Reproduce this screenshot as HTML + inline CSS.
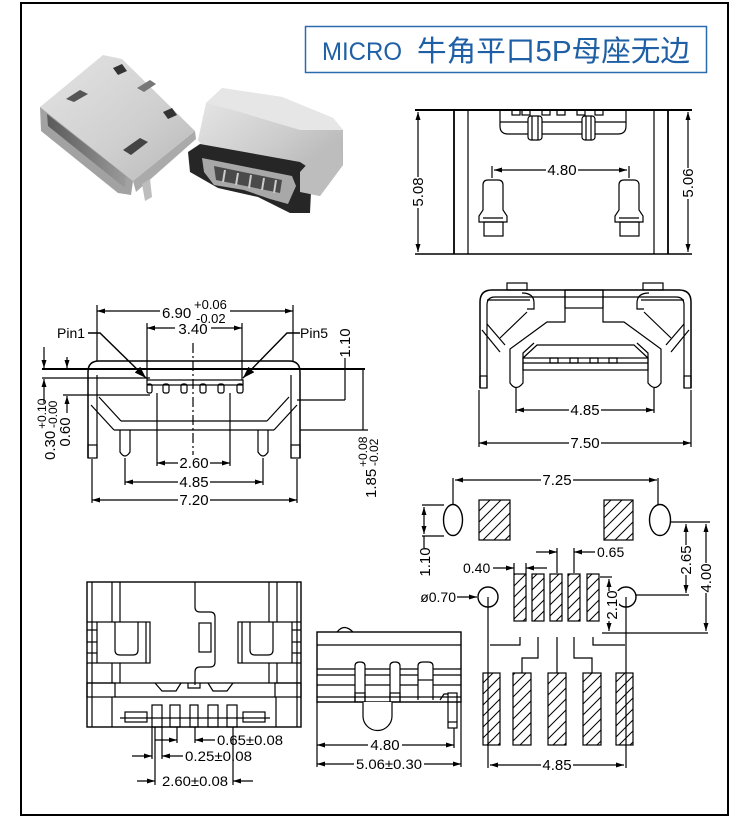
<!DOCTYPE html>
<html><head><meta charset="utf-8">
<style>
html,body{margin:0;padding:0;background:#fff;}
svg{display:block;}
text{font-family:"Liberation Sans",sans-serif;}
</style></head><body>
<svg width="750" height="825" viewBox="0 0 750 825" xmlns="http://www.w3.org/2000/svg">
<defs>
<marker id="ar" viewBox="0 0 8 6" refX="8" refY="3" markerWidth="8" markerHeight="6" markerUnits="userSpaceOnUse" orient="auto-start-reverse"><path d="M0,0.5 L8,3 L0,5.5 z" fill="#000"/></marker>
<marker id="ab" viewBox="0 0 12 8" refX="12" refY="4" markerWidth="12" markerHeight="8" markerUnits="userSpaceOnUse" orient="auto"><path d="M0,0 L12,4 L0,8 z" fill="#000"/></marker>
<pattern id="h" patternUnits="userSpaceOnUse" width="11" height="11"><path d="M0,11 L11,0 M-5.5,5.5 L5.5,-5.5 M5.5,16.5 L16.5,5.5" stroke="#000" stroke-width="1"/></pattern>
<linearGradient id="g1" x1="0" y1="0" x2="1" y2="1"><stop offset="0" stop-color="#e4e4e4"/><stop offset="0.6" stop-color="#cfcfcf"/><stop offset="1" stop-color="#b8b8b8"/></linearGradient>
<linearGradient id="g2" x1="0" y1="0" x2="1" y2="1"><stop offset="0" stop-color="#e8e8e8"/><stop offset="0.5" stop-color="#cdcdcd"/><stop offset="1" stop-color="#a9a9a9"/></linearGradient>
<linearGradient id="g3" x1="0" y1="0" x2="1" y2="0"><stop offset="0" stop-color="#5a5a5a"/><stop offset="1" stop-color="#9a9a9a"/></linearGradient>
</defs>

<!-- frame -->
<rect x="21" y="3" width="707" height="812" fill="none" stroke="#000" stroke-width="2"/>

<!-- title -->
<rect x="305.5" y="26.5" width="401" height="46" fill="none" stroke="#2b6cb0" stroke-width="1.5"/>
<text x="322" y="60" font-size="25" fill="#1f5fa5" textLength="80" lengthAdjust="spacingAndGlyphs">MICRO</text>
<text x="417" y="61" font-size="29" fill="#1f5fa5" style="font-family:'Liberation Sans','Noto Sans CJK SC',sans-serif" textLength="273" lengthAdjust="spacingAndGlyphs">牛角平口5P母座无边</text>

<!-- photo: left connector -->
<g>
<polygon points="40,107 103,55 122,59 195,131 133,181" fill="url(#g1)"/>
<polygon points="40,107 133,181 131,195 118,193 41,131" fill="#a2a2a2"/>
<polygon points="47,114 126,176 125,188 48,126" fill="url(#g3)"/>
<polygon points="133,181 195,131 196,139 136,192" fill="#aaaaaa"/>
<polygon points="142,184 150,179 152,197 145,201" fill="#bdbdbd"/>
<polygon points="113,68 122,64 127,71 118,75" fill="#333"/>
<polygon points="163,112 172,108 177,115 168,119" fill="#333"/>
<polygon points="66,99 80,90 88,94 74,102" fill="#555"/>
<polygon points="123,150 140,138 148,142 131,155" fill="#444"/>
<polygon points="137,88 150,80 156,84 144,92" fill="#777"/>
</g>
<!-- photo: right connector -->
<g>
<polygon points="198,140 206,103 222,88 282,97 333,118 343,130 343,165 320,196 300,192 300,172 205,150" fill="url(#g2)"/>
<polygon points="206,103 222,88 282,97 333,118 343,130 300,130 240,112" fill="#e6e6e6"/>
<polygon points="188,152 200,144 300,162 312,170 310,213 290,213 258,197 218,188 190,172" fill="#262626"/>
<polygon points="202,158 292,176 296,186 288,204 270,199 244,190 214,185 204,172" fill="#a8a8a8"/>
<polygon points="214,166 282,180 280,193 216,180" fill="#4a4a4a"/>
<g stroke="#ccc" stroke-width="2">
<line x1="225" y1="170" x2="223" y2="182"/><line x1="238" y1="173" x2="236" y2="185"/><line x1="251" y1="175" x2="249" y2="188"/><line x1="264" y1="178" x2="262" y2="190"/><line x1="276" y1="180" x2="274" y2="193"/>
</g>
<polygon points="300,172 320,150 340,140 343,165 320,196 300,192" fill="#bdbdbd"/>
</g>

<g stroke="#000" fill="none" stroke-width="1.2">
<!-- ===== top-right drawing ===== -->
<line x1="415" y1="110" x2="692" y2="110" stroke-width="2"/>
<line x1="415" y1="254" x2="692" y2="254" stroke-width="1.6"/>
<line x1="454" y1="110" x2="454" y2="254" stroke-width="1.8"/>
<line x1="468" y1="110" x2="468" y2="254"/>
<line x1="654" y1="110" x2="654" y2="254"/>
<line x1="668" y1="110" x2="668" y2="254" stroke-width="1.8"/>
<line x1="418" y1="112" x2="418" y2="252" marker-start="url(#ar)" marker-end="url(#ar)"/>
<line x1="688" y1="112" x2="688" y2="252" marker-start="url(#ar)" marker-end="url(#ar)"/>
<path d="M500,110 V126 Q500,134 508,134 H618 Q626,134 626,126 V110"/>
<line x1="500" y1="122" x2="626" y2="122"/>
<rect x="512" y="110" width="8" height="5"/><rect x="522" y="110" width="8" height="5"/><rect x="542" y="110" width="8" height="5"/><rect x="557" y="110" width="8" height="5"/><rect x="577" y="110" width="8" height="5"/><rect x="595" y="110" width="8" height="5"/>
<rect x="528" y="116" width="14" height="24" rx="3" fill="#fff"/><line x1="532" y1="116" x2="532" y2="140"/><line x1="538" y1="116" x2="538" y2="140"/>
<rect x="582" y="116" width="13" height="24" rx="3" fill="#fff"/><line x1="586" y1="116" x2="586" y2="140"/><line x1="591" y1="116" x2="591" y2="140"/>
<line x1="494" y1="170" x2="627" y2="170" marker-start="url(#ar)" marker-end="url(#ar)"/>
<line x1="492" y1="166" x2="492" y2="178"/><line x1="629" y1="166" x2="629" y2="178"/>
<path d="M483,210 V185 Q483,180 488,180 H498 Q503,180 503,185 V210 L507,216 V222 H479 V216 Z"/>
<rect x="484" y="222" width="19" height="14"/><line x1="483" y1="218" x2="503" y2="218"/>
<path d="M619,210 V185 Q619,180 624,180 H634 Q639,180 639,185 V210 L643,216 V222 H615 V216 Z"/>
<rect x="620" y="222" width="19" height="14"/><line x1="619" y1="218" x2="639" y2="218"/>

<!-- ===== middle-left drawing ===== -->
<line x1="97" y1="311" x2="293" y2="311" marker-start="url(#ar)" marker-end="url(#ar)"/>
<line x1="97" y1="305" x2="97" y2="361"/><line x1="293" y1="305" x2="293" y2="361"/>
<line x1="147" y1="328" x2="242" y2="328" marker-start="url(#ar)" marker-end="url(#ar)"/>
<line x1="147" y1="323" x2="147" y2="380"/><line x1="242" y1="323" x2="242" y2="380"/>
<polyline points="88,333 100,333 146,378" stroke-width="1.4" marker-end="url(#ab)"/>
<polyline points="300,333 287,333 243,378" stroke-width="1.4" marker-end="url(#ab)"/>
<line x1="193" y1="343" x2="193" y2="455" stroke-dasharray="10 3 2 3"/>
<path d="M88,458 V372 Q88,361 99,361 H289 Q300,361 300,372 V458" stroke-width="1.5"/>
<line x1="97" y1="375" x2="97" y2="458"/><line x1="291" y1="375" x2="291" y2="458"/>
<line x1="42" y1="369" x2="365" y2="369" stroke-width="2"/>
<line x1="42" y1="378" x2="150" y2="378"/>
<line x1="63" y1="395" x2="150" y2="395"/>
<line x1="297" y1="400" x2="345" y2="400"/>
<line x1="99" y1="397" x2="121" y2="421"/><line x1="91" y1="405" x2="114" y2="430"/>
<line x1="289" y1="397" x2="267" y2="421"/><line x1="297" y1="405" x2="274" y2="430"/>
<line x1="121" y1="421" x2="267" y2="421"/><line x1="114" y1="430" x2="274" y2="430"/>
<line x1="300" y1="430" x2="368" y2="430"/>
<path d="M120,430 V452 Q125,460 130,452 V430"/>
<path d="M258,430 V452 Q263,460 268,452 V430"/>
<rect x="88" y="445" width="9" height="13"/><rect x="291" y="445" width="9" height="13"/>
<rect x="147" y="380" width="96" height="5"/>
<rect x="147" y="384" width="5" height="9" rx="2"/><rect x="163" y="384" width="6" height="9" rx="2"/><rect x="181" y="384" width="6" height="9" rx="2"/><rect x="200" y="384" width="6" height="9" rx="2"/><rect x="218" y="384" width="6" height="9" rx="2"/><rect x="237" y="384" width="6" height="9" rx="2"/>
<line x1="44" y1="347" x2="44" y2="368" marker-end="url(#ar)"/>
<line x1="44" y1="403" x2="44" y2="379" marker-end="url(#ar)"/>
<line x1="67" y1="357" x2="67" y2="368" marker-end="url(#ar)"/>
<line x1="67" y1="413" x2="67" y2="396" marker-end="url(#ar)"/>
<line x1="345" y1="358" x2="345" y2="400"/>
<line x1="363" y1="369" x2="363" y2="430"/>
<line x1="157" y1="463" x2="230" y2="463" marker-start="url(#ar)" marker-end="url(#ar)"/>
<line x1="157" y1="393" x2="157" y2="466"/><line x1="230" y1="393" x2="230" y2="466"/>
<line x1="125" y1="482" x2="263" y2="482" marker-start="url(#ar)" marker-end="url(#ar)"/>
<line x1="125" y1="458" x2="125" y2="485"/><line x1="263" y1="458" x2="263" y2="485"/>
<line x1="92" y1="500" x2="297" y2="500" marker-start="url(#ar)" marker-end="url(#ar)"/>
<line x1="92" y1="459" x2="92" y2="503"/><line x1="297" y1="459" x2="297" y2="503"/>

<!-- ===== middle-right drawing ===== -->
<rect x="507" y="283" width="20" height="7"/><rect x="643" y="283" width="20" height="7"/>
<path d="M480,388 V302 Q480,290 492,290 H679 Q691,290 691,302 V388" stroke-width="1.5"/>
<path d="M487,388 V305 Q487,297 495,297 H676 Q684,297 684,305 V388"/>
<rect x="480" y="376" width="7" height="12"/><rect x="684" y="376" width="7" height="12"/>
<line x1="487" y1="300" x2="530" y2="300"/><line x1="641" y1="300" x2="684" y2="300"/>
<path d="M522,293 Q534,293 534,303 V309 H527"/><path d="M649,293 Q637,293 637,303 V309 H644"/>
<line x1="527" y1="312" x2="500" y2="338"/><line x1="644" y1="312" x2="671" y2="338"/>
<line x1="482" y1="330" x2="500" y2="352"/><line x1="487" y1="324" x2="505" y2="345"/>
<line x1="689" y1="330" x2="671" y2="352"/><line x1="684" y1="324" x2="666" y2="345"/>
<rect x="565" y="290" width="38" height="18"/>
<path d="M565,290 V322 H547 L510,349 V383 Q516,392 523,383 V353 L534,343"/>
<path d="M603,290 V322 H624 L661,349 V383 Q655,392 648,383 V353 L637,343"/>
<path d="M523,358 L537,345 H634 L648,358"/>
<rect x="523" y="358" width="125" height="12"/><line x1="523" y1="363" x2="648" y2="363"/>
<rect x="550" y="358" width="8" height="5"/><rect x="570" y="358" width="8" height="5"/><rect x="590" y="358" width="8" height="5"/><rect x="609" y="358" width="8" height="5"/>
<line x1="516" y1="410" x2="654" y2="410" marker-start="url(#ar)" marker-end="url(#ar)"/>
<line x1="516" y1="388" x2="516" y2="413"/><line x1="654" y1="388" x2="654" y2="413"/>
<line x1="479" y1="443" x2="691" y2="443" marker-start="url(#ar)" marker-end="url(#ar)"/>
<line x1="479" y1="390" x2="479" y2="447"/><line x1="691" y1="390" x2="691" y2="447"/>

<!-- ===== footprint ===== -->
<ellipse cx="453" cy="520" rx="9.5" ry="15.5" stroke-width="1.4"/>
<ellipse cx="660" cy="520" rx="10.5" ry="15.5" stroke-width="1.4"/>
<line x1="455" y1="480" x2="657" y2="480" marker-start="url(#ar)" marker-end="url(#ar)"/>
<line x1="453" y1="478" x2="453" y2="505"/><line x1="658" y1="478" x2="658" y2="505"/>
<rect x="479" y="500" width="31" height="40" fill="url(#h)"/>
<rect x="604" y="500" width="29" height="40" fill="url(#h)"/>
<line x1="422" y1="505" x2="444" y2="505"/><line x1="422" y1="536" x2="444" y2="536"/>
<line x1="424" y1="507" x2="424" y2="534" marker-start="url(#ar)" marker-end="url(#ar)"/>
<line x1="424" y1="536" x2="424" y2="548"/>
<line x1="557" y1="548" x2="557" y2="573"/><line x1="574" y1="548" x2="574" y2="573"/>
<line x1="536" y1="552" x2="557" y2="552" marker-end="url(#ar)"/>
<line x1="595" y1="552" x2="574" y2="552" marker-end="url(#ar)"/>
<line x1="493" y1="568" x2="514" y2="568" marker-end="url(#ar)"/>
<line x1="547" y1="568" x2="526" y2="568" marker-end="url(#ar)"/>
<line x1="514" y1="563" x2="514" y2="574"/><line x1="526" y1="563" x2="526" y2="574"/>
<rect x="514" y="574" width="12" height="47" fill="url(#h)"/>
<rect x="532" y="574" width="12" height="47" fill="url(#h)"/>
<rect x="550" y="574" width="12" height="47" fill="url(#h)"/>
<rect x="568" y="574" width="12" height="47" fill="url(#h)"/>
<rect x="587" y="574" width="12" height="47" fill="url(#h)"/>
<circle cx="488" cy="597" r="10" stroke-width="1.4"/>
<circle cx="626" cy="597" r="10" stroke-width="1.4"/>
<line x1="457" y1="597" x2="477" y2="597" marker-end="url(#ar)"/>
<line x1="488" y1="597" x2="488" y2="768"/>
<line x1="626" y1="597" x2="626" y2="768"/>
<line x1="490" y1="765" x2="624" y2="765" marker-start="url(#ar)" marker-end="url(#ar)"/>
<polyline points="520,637 520,645 490,645"/>
<polyline points="538,637 538,658 522,658 522,673"/>
<line x1="557" y1="637" x2="557" y2="673"/>
<polyline points="574,637 574,658 592,658 592,673"/>
<polyline points="593,637 593,645 625,645"/>
<rect x="483" y="673" width="17" height="72" fill="url(#h)"/>
<rect x="513" y="673" width="18" height="72" fill="url(#h)"/>
<rect x="548" y="673" width="18" height="72" fill="url(#h)"/>
<rect x="583" y="673" width="18" height="72" fill="url(#h)"/>
<rect x="616" y="673" width="17" height="72" fill="url(#h)"/>
<line x1="600" y1="577" x2="612" y2="577"/>
<line x1="602" y1="633" x2="708" y2="633"/>
<line x1="609" y1="579" x2="609" y2="631" marker-start="url(#ar)" marker-end="url(#ar)"/>
<line x1="671" y1="522" x2="710" y2="522"/>
<line x1="636" y1="595" x2="689" y2="595"/>
<line x1="686" y1="524" x2="686" y2="593" marker-start="url(#ar)" marker-end="url(#ar)"/>
<line x1="706" y1="524" x2="706" y2="631" marker-start="url(#ar)" marker-end="url(#ar)"/>

<!-- ===== bottom-left drawing ===== -->
<rect x="87" y="582" width="214" height="145" stroke-width="1.4"/>
<line x1="92" y1="582" x2="92" y2="727"/><line x1="297" y1="582" x2="297" y2="727"/>
<line x1="112" y1="582" x2="112" y2="622"/><line x1="120" y1="582" x2="120" y2="622"/>
<line x1="269" y1="582" x2="269" y2="622"/><line x1="277" y1="582" x2="277" y2="622"/>
<line x1="112" y1="663" x2="112" y2="683"/><line x1="120" y1="663" x2="120" y2="683"/>
<line x1="269" y1="663" x2="269" y2="683"/><line x1="277" y1="663" x2="277" y2="683"/>
<rect x="97" y="622" width="53" height="41"/>
<rect x="238" y="622" width="54" height="41"/>
<line x1="87" y1="622" x2="97" y2="622"/><line x1="87" y1="663" x2="97" y2="663"/>
<line x1="292" y1="622" x2="301" y2="622"/><line x1="292" y1="663" x2="301" y2="663"/>
<line x1="87" y1="630" x2="97" y2="630"/><line x1="87" y1="642" x2="97" y2="642"/><line x1="87" y1="653" x2="97" y2="653"/>
<line x1="292" y1="630" x2="301" y2="630"/><line x1="292" y1="642" x2="301" y2="642"/><line x1="292" y1="653" x2="301" y2="653"/>
<line x1="146" y1="622" x2="146" y2="663"/><line x1="242" y1="622" x2="242" y2="663"/>
<path d="M115,622 V650 Q115,655 120,655 H133 Q138,655 138,650 V622"/>
<path d="M250,622 V650 Q250,655 255,655 H268 Q273,655 273,650 V622"/>
<path d="M195,582 V607 Q195,612 200,612 H210 Q215,612 215,617 V662 Q215,667 210,667 H200 Q195,667 195,672 V685"/>
<rect x="199" y="623" width="12" height="29"/>
<line x1="87" y1="683" x2="301" y2="683"/>
<rect x="87" y="683" width="28" height="14"/><rect x="275" y="683" width="26" height="14"/>
<line x1="112" y1="697" x2="112" y2="727"/><line x1="276" y1="697" x2="276" y2="727"/>
<path d="M155,683 L162,691 H176 L181,683"/><path d="M208,683 L213,691 H227 L233,683"/>
<path d="M188,683 V688 H200 V683"/>
<line x1="115" y1="697" x2="275" y2="697"/>
<line x1="120" y1="718" x2="270" y2="718"/>
<rect x="125" y="712" width="22" height="10"/><rect x="243" y="712" width="22" height="10"/>
<rect x="152" y="705" width="10" height="22"/><rect x="170" y="705" width="10" height="22"/><rect x="190" y="705" width="8" height="22"/><rect x="208" y="705" width="10" height="22"/><rect x="227" y="705" width="10" height="22"/>
<line x1="177" y1="727" x2="177" y2="743"/><line x1="195" y1="727" x2="195" y2="743"/>
<line x1="155" y1="740" x2="177" y2="740" marker-end="url(#ar)"/>
<line x1="215" y1="740" x2="195" y2="740" marker-end="url(#ar)"/>
<line x1="152" y1="727" x2="152" y2="759"/><line x1="162" y1="727" x2="162" y2="759"/>
<line x1="132" y1="756" x2="152" y2="756" marker-end="url(#ar)"/>
<line x1="183" y1="756" x2="162" y2="756" marker-end="url(#ar)"/>
<line x1="155" y1="727" x2="155" y2="785"/><line x1="233" y1="727" x2="233" y2="785"/>
<line x1="137" y1="781" x2="155" y2="781" marker-end="url(#ar)"/>
<line x1="253" y1="781" x2="233" y2="781" marker-end="url(#ar)"/>

<!-- ===== bottom-middle drawing ===== -->
<rect x="317" y="632" width="144" height="70" stroke-width="1.4"/>
<path d="M337,632 Q342,626 347,628 Q350,629 353,632"/>
<line x1="317" y1="645" x2="461" y2="645"/>
<line x1="317" y1="669" x2="355" y2="669"/><line x1="365" y1="669" x2="390" y2="669"/><line x1="400" y1="669" x2="418" y2="669"/><line x1="433" y1="669" x2="461" y2="669"/>
<line x1="317" y1="675" x2="355" y2="675"/><line x1="365" y1="675" x2="390" y2="675"/><line x1="400" y1="675" x2="418" y2="675"/><line x1="433" y1="675" x2="461" y2="675"/>
<line x1="317" y1="685" x2="355" y2="685"/><line x1="365" y1="685" x2="390" y2="685"/><line x1="400" y1="685" x2="418" y2="685"/><line x1="433" y1="685" x2="461" y2="685"/>
<line x1="317" y1="697" x2="461" y2="697"/>
<path d="M355,702 V666 Q355,662 360,662 Q365,662 365,666 V702"/>
<path d="M390,702 V666 Q390,662 395,662 Q400,662 400,666 V702"/>
<rect x="355" y="693" width="10" height="9"/><rect x="390" y="693" width="10" height="9"/>
<path d="M363,702 V716 A14.5,14.5 0 0 0 392,716 V702" fill="#fff"/>
<path d="M418,700 V666 Q418,662 423,662 H428 Q433,662 433,666 V700"/>
<line x1="418" y1="680" x2="433" y2="680"/>
<rect x="448" y="693" width="9" height="35"/><line x1="448" y1="722" x2="457" y2="722"/>
<path d="M440,700 L444,694 H448"/>
<line x1="317" y1="745" x2="454" y2="745" marker-start="url(#ar)" marker-end="url(#ar)"/>
<line x1="454" y1="728" x2="454" y2="748"/>
<line x1="317" y1="764" x2="461" y2="764" marker-start="url(#ar)" marker-end="url(#ar)"/>
<line x1="317" y1="702" x2="317" y2="767"/><line x1="461" y1="702" x2="461" y2="767"/>
</g>

<!-- white backgrounds for dim labels -->
<g fill="#fff">
<rect x="411" y="177" width="14" height="31"/>
<rect x="681" y="168" width="14" height="31"/>
<rect x="546" y="163" width="32" height="14"/>
<rect x="160" y="298" width="70" height="27"/>
<rect x="175" y="321" width="36" height="13"/>
<rect x="178" y="456" width="32" height="14"/>
<rect x="178" y="475" width="32" height="14"/>
<rect x="178" y="493" width="32" height="14"/>
<rect x="338" y="328" width="14" height="30"/>
<rect x="569" y="403" width="32" height="14"/>
<rect x="569" y="436" width="32" height="14"/>
<rect x="541" y="473" width="32" height="14"/>
<rect x="605" y="591" width="14" height="30"/>
<rect x="679" y="545" width="14" height="30"/>
<rect x="699" y="563" width="14" height="30"/>
<rect x="541" y="758" width="32" height="14"/>
<rect x="368" y="738" width="34" height="14"/>
<rect x="354" y="757" width="70" height="14"/>
</g>

<g font-size="15" fill="#000">
<text x="418" y="197" transform="rotate(-90 418 192)" text-anchor="middle">5.08</text>
<text x="688" y="188" transform="rotate(-90 688 183)" text-anchor="middle">5.06</text>
<text x="562" y="175" text-anchor="middle">4.80</text>

<text x="162" y="318">6.90</text>
<text x="194" y="309" font-size="13">+0.06</text>
<text x="196" y="323" font-size="13">-0.02</text>
<text x="193" y="334" text-anchor="middle">3.40</text>
<text x="57" y="338" font-size="14">Pin1</text>
<text x="300" y="338" font-size="14">Pin5</text>
<text x="345" y="348" transform="rotate(-90 345 343)" text-anchor="middle">1.10</text>
<text x="65" y="437" transform="rotate(-90 65 432)" text-anchor="middle">0.60</text>
<g transform="translate(55,460) rotate(-90)"><text x="0" y="0">0.30</text><text x="31" y="-9" font-size="12">+0.10</text><text x="32" y="2" font-size="12">-0.00</text></g>
<g transform="translate(376,498) rotate(-90)"><text x="0" y="0">1.85</text><text x="31" y="-9" font-size="12">+0.08</text><text x="32" y="2" font-size="12">-0.02</text></g>
<text x="194" y="468" text-anchor="middle">2.60</text>
<text x="194" y="487" text-anchor="middle">4.85</text>
<text x="194" y="505" text-anchor="middle">7.20</text>

<text x="585" y="415" text-anchor="middle">4.85</text>
<text x="585" y="448" text-anchor="middle">7.50</text>

<text x="557" y="485" text-anchor="middle">7.25</text>
<text x="425" y="567" transform="rotate(-90 425 562)" text-anchor="middle">1.10</text>
<text x="597" y="557" font-size="14">0.65</text>
<text x="463" y="573" font-size="14">0.40</text>
<text x="456" y="602" font-size="14" text-anchor="end">ø0.70</text>
<text x="612" y="610" transform="rotate(-90 612 605)" text-anchor="middle">2.10</text>
<text x="686" y="565" transform="rotate(-90 686 560)" text-anchor="middle">2.65</text>
<text x="706" y="583" transform="rotate(-90 706 578)" text-anchor="middle">4.00</text>
<text x="557" y="770" text-anchor="middle">4.85</text>

<text x="217" y="745" font-size="14" textLength="66" lengthAdjust="spacingAndGlyphs">0.65±0.08</text>
<text x="185" y="761" font-size="14" textLength="67" lengthAdjust="spacingAndGlyphs">0.25±0.08</text>
<text x="162" y="786" font-size="14" textLength="66" lengthAdjust="spacingAndGlyphs">2.60±0.08</text>

<text x="385" y="750" text-anchor="middle">4.80</text>
<text x="389" y="769" text-anchor="middle" font-size="14" textLength="66" lengthAdjust="spacingAndGlyphs">5.06±0.30</text>
</g>
</svg>
</body></html>
